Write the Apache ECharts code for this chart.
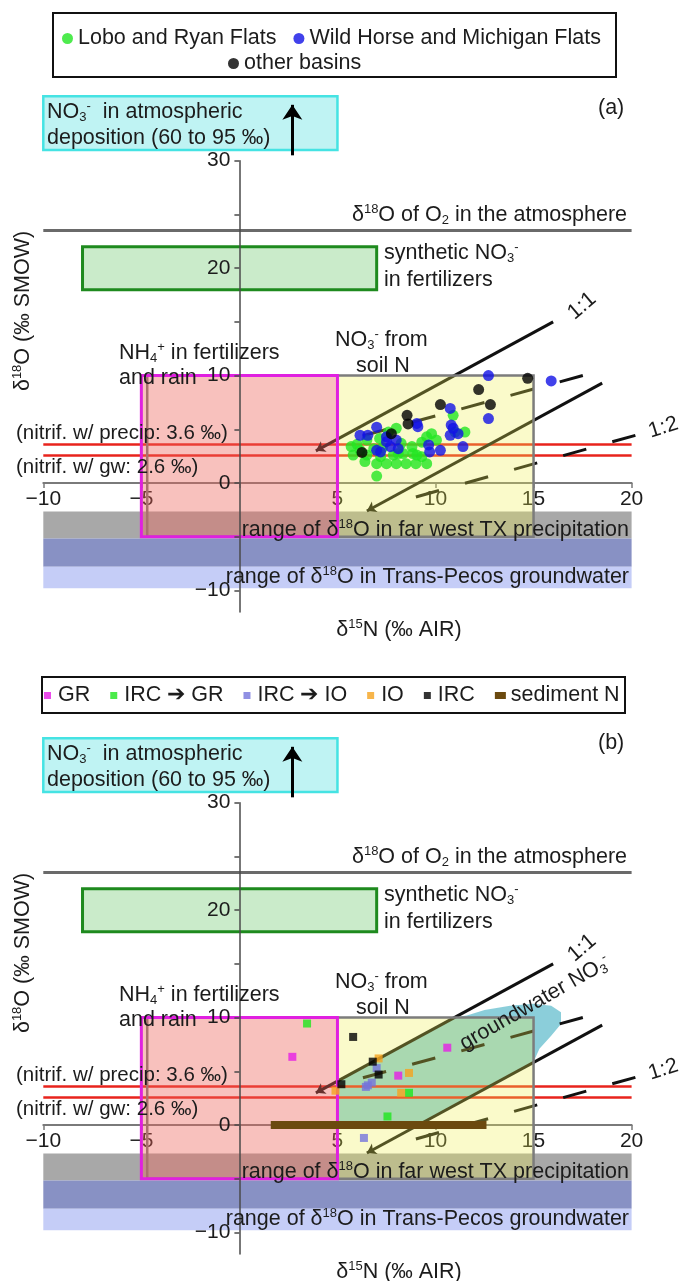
<!DOCTYPE html>
<html><head><meta charset="utf-8">
<script src="https://cdn.jsdelivr.net/npm/echarts@6/dist/echarts.min.js"></script>
<style>html,body{margin:0;padding:0;background:#fff}#c{width:683px;height:1281px}</style>
</head><body><div id="c"></div>
<script>
// ---------- axis ticks ----------
const xTicks = [-10, -5, 0, 5, 10, 15, 20];
const xTickLabels = [-10, -5, 5, 10, 15, 20];
const yTicks = [-10, -5, 0, 5, 10, 15, 20, 25, 30];
const yTickLabels = [-10, 0, 10, 20, 30];

// ---------- panel (a) samples: [d15N, d18O] ----------
const loboRyan = [
  [7.0,0.65],[5.7,3.4],[5.8,2.6],[6.4,2.0],[7.0,1.8],[7.5,1.8],[8.0,1.8],[8.5,1.8],[9.0,1.8],[9.55,1.8],
  [6.5,2.6],[7.2,2.45],[7.85,2.6],[8.35,2.75],[8.85,2.75],[9.3,2.45],[6.15,3.05],[6.85,3.2],[7.6,4.75],[8.0,5.1],
  [7.15,4.15],[6.5,4.0],[9.8,4.6],[10.05,4.0],[9.55,4.3],[10.9,6.3],[11.0,4.75],[11.5,4.75],[8.8,3.4],[9.05,2.6],
  [8.25,3.7],[8.1,2.75],[6.0,3.6],[7.3,3.3],[9.3,3.8]
];
const wildHorseMichigan = [
  [12.7,10.0],[15.9,9.5],[10.75,6.95],[12.7,6.0],[9.05,5.55],[9.1,5.25],[7.0,5.2],[6.15,4.45],[6.55,4.45],[7.5,4.3],
  [8.0,4.0],[7.7,3.4],[8.1,3.2],[7.0,3.05],[7.2,2.9],[10.8,5.4],[10.75,4.45],[11.15,4.6],[10.9,5.1],[9.65,3.55],
  [9.7,2.9],[10.25,3.05],[11.4,3.4],[7.5,3.85]
];
const otherBasins = [
  [14.7,9.75],[12.2,8.7],[12.8,7.3],[10.25,7.3],[8.55,6.3],[8.6,5.5],[7.75,4.6],[6.25,2.85]
];

// ---------- panel (b) samples ----------
const GR = [[2.7,6.35],[10.6,7.2],[8.1,4.6]];
const IRC_GR = [[3.45,9.45],[8.65,3.0],[7.55,0.8]];
const IRC_IO = [[6.55,3.7],[6.75,3.95],[6.45,3.55],[7.0,5.3],[6.35,-1.2]];
const IO = [[4.9,3.2],[7.1,6.2],[8.65,4.85],[8.25,3.0]];
const IRC = [[5.8,8.2],[6.8,5.9],[7.1,4.7],[5.2,3.8]];
const sedimentN = [[1.6,0],[12.6,0]];

// ---------- reference ranges (x0, x1, y0, y1) ----------
const atmDepositionBox = [-10, 5, 31, 36];
const atmArrow = [[2.7,30.5],[2.7,35.2]];
const O2atm = 23.5;
const synthFertBox = [-8, 7, 18, 22];
const nh4Box = [-5, 5, -5, 10];
const soilNBox = [-4.7, 15, -5, 10];
const soilNFill = [5, 15, -5, 10];
const nitrifPrecip = 3.6;
const nitrifGw = 2.6;
const precipBand = [-10, 20, -5.15, -2.65];
const gwBandDark = [-10, 20, -7.8, -5.15];
const gwBandLight = [-10, 20, -9.8, -7.8];
const line11Upper = [[3.9,3.0],[16.0,15.0]];
const line11Lower = [[6.5,-2.6],[18.5,9.3]];
const line12Upper = [[6.3,4.4],[18.3,10.4]];
const line12Lower = [[9.0,-1.3],[20.5,4.6]];
const gwRegion = [[5,4.1],[5,0],[9.1,0],[15,5.9],[15.3,7.1],[15.9,8.3],[16.4,9.4],[16.4,10.5],
  [15.9,11.1],[15.0,11.3],[13.8,11.1],[12.5,10.7],[11.6,10.2],[10.9,10.0]];

// ---------- styling ----------
const FONT = "'Liberation Sans', Arial, sans-serif";
const FS = 21.5;
const TICK_FS = 21;
const TXT = '#1c1c1c';
const DY = 642;
const X_MIN = -10, X_MAX = 20, Y_MIN = -12, Y_MAX = 30;
const GRID_W = 588.3, GRID_H = 451.3;
const RICH = {
  sup: {fontSize: 13, fontFamily: FONT, fill: TXT, color: TXT, lineHeight: 13, verticalAlign: 'top'},
  sub: {fontSize: 13, fontFamily: FONT, fill: TXT, color: TXT, lineHeight: 13, verticalAlign: 'bottom'}
};

function T(x, y, text, o) {
  o = o || {};
  const fs = o.fs || FS;
  return {
    type: 'text', x: x, y: y, rotation: o.rot || 0, z: 100, silent: true,
    style: {
      text: text, x: 0, y: 0, fill: o.color || TXT,
      fontSize: fs, fontFamily: FONT,
      align: o.align || 'left', textAlign: o.align || 'left',
      verticalAlign: 'middle', textVerticalAlign: 'middle',
      lineHeight: 24, rich: RICH
    }
  };
}

function panelTexts(dy, tag, tagY) {
  return [
    T(47, 111.7 + dy, 'NO{sub|3}{sup|-}  in atmospheric'),
    T(47, 138.3 + dy, 'deposition (60 to 95 ‰)'),
    T(598, tagY, tag),
    T(627, 215 + dy, 'δ{sup|18}O of O{sub|2} in the atmosphere', {align: 'right'}),
    T(384, 253 + dy, 'synthetic NO{sub|3}{sup|-}'),
    T(384, 280 + dy, 'in fertilizers'),
    T(119, 353 + dy, 'NH{sub|4}{sup|+} in fertilizers'),
    T(119, 378 + dy, 'and rain'),
    T(335, 340 + dy, 'NO{sub|3}{sup|-} from'),
    T(356, 366.5 + dy, 'soil N'),
    T(582, 306 + dy, '1:1', {align: 'center', rot: 0.7}),
    T(649, 432 + dy, '1:2', {rot: 0.3}),
    T(16, 433 + dy, '(nitrif. w/ precip: 3.6 ‰)', {fs: 20.5}),
    T(16, 467 + dy, '(nitrif. w/ gw: 2.6 ‰)', {fs: 20.5}),
    T(629, 530 + dy, 'range of δ{sup|18}O in far west TX precipitation', {align: 'right'}),
    T(629, 577 + dy, 'range of δ{sup|18}O in Trans-Pecos groundwater', {align: 'right'}),
    T(399, 630 + dy, 'δ{sup|15}N (‰ AIR)', {align: 'center'}),
    T(23, 311 + dy, 'δ{sup|18}O (‰ SMOW)', {align: 'center', rot: Math.PI / 2})
  ];
}

function rectSeries(gi, r, fill, stroke, lw, z) {
  return {
    type: 'custom', xAxisIndex: gi, yAxisIndex: gi, z: z, silent: true, clip: false,
    data: [r],
    renderItem: function (p, api) {
      const a = api.coord([api.value(0), api.value(2)]);
      const b = api.coord([api.value(1), api.value(3)]);
      return {type: 'rect',
        shape: {x: Math.min(a[0], b[0]), y: Math.min(a[1], b[1]), width: Math.abs(b[0] - a[0]), height: Math.abs(b[1] - a[1])},
        style: {fill: fill, stroke: stroke || null, lineWidth: lw || 0}};
    }
  };
}

function polySeries(gi, pts, fill, z) {
  return {
    type: 'custom', xAxisIndex: gi, yAxisIndex: gi, z: z, silent: true, clip: false,
    data: [0],
    renderItem: function (p, api) {
      return {type: 'polygon', shape: {points: pts.map(function (q) { return api.coord(q); })},
        style: {fill: fill}};
    }
  };
}

function segSeries(gi, pts, color, width, z, dash, sym, symSize) {
  return {
    type: 'lines', coordinateSystem: 'cartesian2d', xAxisIndex: gi, yAxisIndex: gi, z: z,
    silent: true, clip: false,
    symbol: sym || ['none', 'none'], symbolSize: symSize || 11,
    lineStyle: {color: color, width: width, type: dash || 'solid', opacity: 1, cap: 'butt'},
    data: [{coords: pts}]
  };
}

function hline(y) { return [[X_MIN, y], [X_MAX, y]]; }

function panelBackground(gi) {
  return [
    rectSeries(gi, precipBand, '#a8a8a8', null, 0, 1),
    rectSeries(gi, gwBandDark, '#8891c4', null, 0, 1),
    rectSeries(gi, gwBandLight, '#c5cdf7', null, 0, 1),
    segSeries(gi, hline(nitrifPrecip), '#e8231c', 2.5, 2),
    segSeries(gi, hline(nitrifGw), '#e8231c', 2.5, 2),
    segSeries(gi, hline(O2atm), '#6a6a6a', 3, 2),
    segSeries(gi, line11Upper, '#111', 3, 2, 'solid', ['arrow', 'none'], [9, 13]),
    segSeries(gi, line11Lower, '#111', 3, 2, 'solid', ['arrow', 'none'], [9, 13]),
    segSeries(gi, line12Upper, '#111', 3, 2, [24, 27]),
    segSeries(gi, line12Lower, '#111', 3, 2, [24, 27]),
    rectSeries(gi, soilNFill, 'rgba(240,240,80,0.3)', null, 0, 3),
    rectSeries(gi, soilNBox, 'none', '#7c7c7c', 2.5, 3.1),
    rectSeries(gi, nh4Box, 'rgba(238,100,90,0.4)', '#e020e0', 3, 3.2),
    rectSeries(gi, synthFertBox, 'rgba(150,215,150,0.5)', '#1e8a1e', 3, 3),
    rectSeries(gi, atmDepositionBox, '#bff3f3', '#45e3e3', 2.5, 3),
    segSeries(gi, atmArrow, '#000', 3, 4, 'solid', ['none', 'arrow'], [11, 15])
  ];
}

function axes(gi) {
  const lab = function (v) { return String(v).replace('-', '\u2212'); };
  // place the axes through the origin by offsetting them from the grid edges
  const xOff = -(0 - Y_MIN) / (Y_MAX - Y_MIN) * GRID_H;
  const yOff = -(0 - X_MIN) / (X_MAX - X_MIN) * GRID_W;
  return {
    x: {
      gridIndex: gi, type: 'value', min: X_MIN, max: X_MAX, position: 'bottom', offset: xOff, z: 0,
      axisLine: {show: true, onZero: false, lineStyle: {color: '#7a7a7a', width: 2}},
      axisTick: {show: true, customValues: xTicks, length: 5, lineStyle: {color: '#7a7a7a', width: 1.5}},
      axisLabel: {customValues: xTickLabels, formatter: lab, fontSize: TICK_FS, fontFamily: FONT, color: TXT, margin: 6},
      splitLine: {show: false}
    },
    y: {
      gridIndex: gi, type: 'value', min: Y_MIN, max: Y_MAX, position: 'left', offset: yOff, z: 10,
      axisLine: {show: true, onZero: false, lineStyle: {color: '#4a4a4a', width: 1.5}},
      axisTick: {show: true, customValues: yTicks, length: 5, lineStyle: {color: '#4a4a4a', width: 1.5}},
      axisLabel: {customValues: yTickLabels, formatter: lab, fontSize: TICK_FS, fontFamily: FONT, color: TXT, margin: 9},
      splitLine: {show: false}
    }
  };
}

const a0 = axes(0), a1 = axes(1);
const SQ = 'path://M0,0L10,0L10,10L0,10Z';
const legendText = {fontSize: FS, fontFamily: FONT, color: TXT};
const ARROW = '\u2794';

const series = [].concat(
  panelBackground(0),
  [
    {name: 'Lobo and Ryan Flats', type: 'scatter', xAxisIndex: 0, yAxisIndex: 0, z: 6, symbol: 'circle', symbolSize: 11,
      itemStyle: {color: '#22e622'}, data: loboRyan},
    {name: 'Wild Horse and Michigan Flats', type: 'scatter', xAxisIndex: 0, yAxisIndex: 0, z: 6, symbol: 'circle', symbolSize: 11,
      itemStyle: {color: '#1212e6'}, data: wildHorseMichigan},
    {name: 'other basins', type: 'scatter', xAxisIndex: 0, yAxisIndex: 0, z: 6, symbol: 'circle', symbolSize: 11,
      itemStyle: {color: '#000'}, data: otherBasins}
  ],
  [polySeries(1, gwRegion, 'rgba(100,190,205,0.75)', 1.5)],
  panelBackground(1),
  [
    {name: 'sediment N', type: 'line', xAxisIndex: 1, yAxisIndex: 1, z: 3.5, symbol: 'none', silent: true,
      lineStyle: {color: '#6b4a0f', width: 8, cap: 'butt'}, itemStyle: {color: '#6b4a0f'}, data: sedimentN},
    {name: 'GR', type: 'scatter', xAxisIndex: 1, yAxisIndex: 1, z: 6, symbol: 'rect', symbolSize: 8,
      itemStyle: {color: '#e61ee6'}, data: GR},
    {name: 'IRC ' + ARROW + ' GR', type: 'scatter', xAxisIndex: 1, yAxisIndex: 1, z: 6, symbol: 'rect', symbolSize: 8,
      itemStyle: {color: '#1ee61e'}, data: IRC_GR},
    {name: 'IRC ' + ARROW + ' IO', type: 'scatter', xAxisIndex: 1, yAxisIndex: 1, z: 6, symbol: 'rect', symbolSize: 8,
      itemStyle: {color: '#7474dc'}, data: IRC_IO},
    {name: 'IO', type: 'scatter', xAxisIndex: 1, yAxisIndex: 1, z: 6, symbol: 'rect', symbolSize: 8,
      itemStyle: {color: '#f5a31e'}, data: IO},
    {name: 'IRC', type: 'scatter', xAxisIndex: 1, yAxisIndex: 1, z: 6, symbol: 'rect', symbolSize: 8,
      itemStyle: {color: '#000'}, data: IRC}
  ]
);

const option = {
  animation: false,
  backgroundColor: '#fff',
  grid: [
    {left: 43.3, top: 160.7, width: GRID_W, height: GRID_H},
    {left: 43.3, top: 160.7 + DY, width: GRID_W, height: GRID_H}
  ],
  xAxis: [a0.x, a1.x],
  yAxis: [a0.y, a1.y],
  legend: [
    {data: ['Lobo and Ryan Flats', 'Wild Horse and Michigan Flats'], left: 62, top: 27.5, padding: 0,
      itemWidth: 11, itemHeight: 11, itemGap: 17, icon: 'circle', selectedMode: false, textStyle: legendText},
    {data: ['other basins'], left: 228, top: 52.5, padding: 0,
      itemWidth: 11, itemHeight: 11, icon: 'circle', selectedMode: false, textStyle: legendText},
    {data: [{name: 'GR', icon: SQ}, {name: 'IRC ' + ARROW + ' GR', icon: SQ}, {name: 'IRC ' + ARROW + ' IO', icon: SQ},
            {name: 'IO', icon: SQ}, {name: 'IRC', icon: SQ}, {name: 'sediment N', icon: 'rect'}],
      left: 44, top: 684.5, padding: 0, itemWidth: 11, itemHeight: 7, itemGap: 20,
      selectedMode: false, textStyle: legendText}
  ],
  graphic: [
    {type: 'rect', z: 100, silent: true, shape: {x: 53, y: 13, width: 563, height: 64},
      style: {fill: 'none', stroke: '#111', lineWidth: 2}},
    {type: 'rect', z: 100, silent: true, shape: {x: 42, y: 677, width: 583, height: 36},
      style: {fill: 'none', stroke: '#111', lineWidth: 2}},
    T(535, 1003, 'groundwater NO{sub|3}{sup|-}', {align: 'center', rot: 0.52})
  ].concat(panelTexts(0, '(a)', 108), panelTexts(DY, '(b)', 743)),
  series: series
};

const chart = echarts.init(document.getElementById('c'), null, {renderer: 'canvas'});
chart.setOption(option);
</script>
</body></html>
